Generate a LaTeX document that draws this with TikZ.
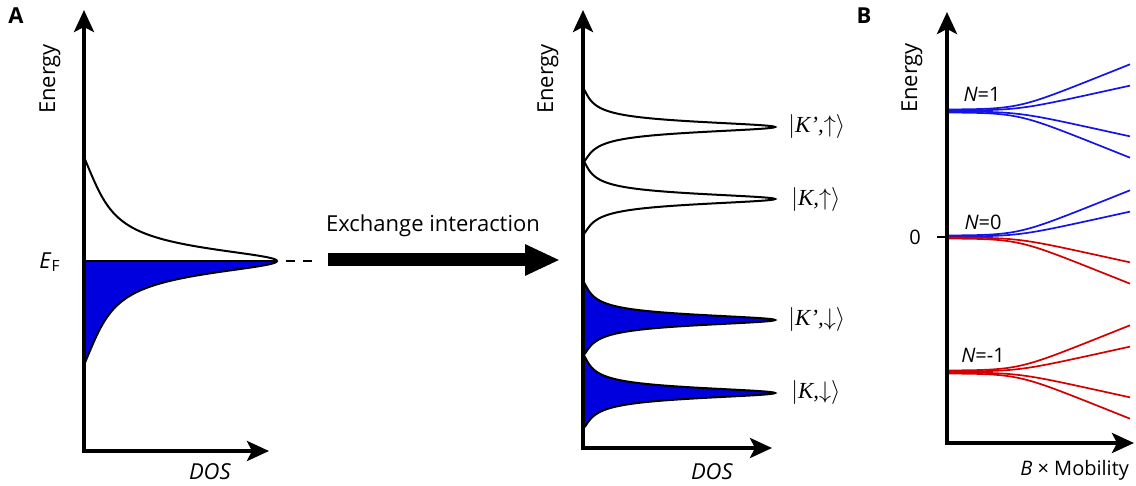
\documentclass[tikz,border=0pt]{standalone}
\usepackage{fontspec}
\setmainfont{Open Sans}
\newfontfamily\ketfont{Liberation Serif}
\usetikzlibrary{arrows.meta}
\definecolor{dosblue}{RGB}{0,0,222}
\definecolor{lvlblue}{RGB}{20,20,230}
\definecolor{lvlred}{RGB}{210,0,0}
\newcommand{\ketlabel}[2]{{\fontsize{11.5}{13}\selectfont$\bigl|\mbox{\ketfont\itshape #1,}{#2}\bigr\rangle$}}
\begin{document}
\begin{tikzpicture}[x=0.5pt,y=-0.5pt,font=\fontsize{11}{13}\selectfont,
    axis/.style={line width=2pt,line join=miter,
      {Stealth[length=11pt,width=10pt,inset=2.5pt]}-{Stealth[length=11pt,width=10pt,inset=2.5pt]}},
    dos/.style={line width=1pt},
    lvl/.style={line width=0.85pt},
    small/.style={font=\fontsize{10}{12}\selectfont},
    declare function={
      pkA(\dy)=(1+(\dy*\dy)/182.25)^(-0.7)*(1-((\dy*\dy)/10816)^2);
      hm(\dy)=(\dy<0)*38+(\dy>=0)*35;
      pkM(\dy)=sqrt(max(0,1-(\dy*\dy)/(hm(\dy)*hm(\dy))))/(1+(\dy*\dy)/42.25);}]
  \useasboundingbox (0,0) rectangle (1136,486);
  % panel A, left: single peak at E_F
  \fill[dosblue] (84,261) -- plot[domain=0:104,samples=131] ({84+193*pkA(\x)},{261+\x}) -- cycle;
  \draw[dos] plot[domain=-104:104,samples=261] ({84+193*pkA(\x)},{261+\x});
  \coordinate (peakA) at (277,261);
  \draw[dos] (84,261) -- (peakA);
  \draw[axis] (84,10) -- (84,451) -- (269,451);
  \node (pA) at (16,16) {\bfseries A};
  \node[rotate=90] (enA) at (50,79) {Energy};
  \node (dosA) at (210,472) {\textit{DOS}};
  \node (EF) at (50,262) {\textit{E}\textsubscript{F}};
  % exchange arrow
  \coordinate (dashL) at (286,261);
  \coordinate (dashR) at (313,261);
  \draw[dos,dash pattern=on 4.5pt off 4pt] (dashL) -- (dashR);
  \coordinate (xchL) at (328,260);
  \coordinate (xchR) at (560,260);
  \draw[line width=6.5pt,-{Triangle[length=17.5pt,width=14.5pt]}] (xchL) -- (xchR);
  \node (xch) at (433,226) {Exchange interaction};
  % panel A, right: four split peaks
  \foreach \yp/\fc in {127/none,199/none,320/dosblue,393/dosblue}
    \filldraw[dos,fill=\fc] plot[domain=-38:35,samples=147] ({583+192*pkM(\x)},{\yp+\x}) -- cycle;
  \draw[axis] (583,10) -- (583,448) -- (772,448);
  \node[rotate=90] (enM) at (548,79) {Energy};
  \node (dosM) at (712,472) {\textit{DOS}};
  \node[anchor=west,inner sep=0pt] (k1) at (788,127) {\ketlabel{K’}{\uparrow}};
  \node[anchor=west,inner sep=0pt] (k2) at (791,200) {\ketlabel{K}{\uparrow}};
  \node[anchor=west,inner sep=0pt] (k3) at (788,320) {\ketlabel{K’}{\downarrow}};
  \node[anchor=west,inner sep=0pt] (k4) at (791,393) {\ketlabel{K}{\downarrow}};
  % panel B: Landau levels vs field
  \foreach \lev/\cu/\cd in {111/lvlblue/lvlblue,237/lvlblue/lvlred,372/lvlred/lvlred}
    \foreach \s/\b in {0.4/1.5,0.22/0.5}{
      \draw[lvl,\cu] plot[domain=947:1130,samples=61] (\x,{\lev-\b-\s*15*ln(1+exp((\x-1017)/15))});
      \draw[lvl,\cd] plot[domain=947:1130,samples=61] (\x,{\lev+\b+\s*15*ln(1+exp((\x-1017)/15))});
    }
  \draw[axis] (947,12) -- (947,443) -- (1134,443);
  \coordinate (zero) at (947,237);
  \draw[line width=0.8pt] (zero) -- ++(-10,0);
  \node[small] (zlab) at (915,237) {0};
  \node (pB) at (864,16) {\bfseries B};
  \node[rotate=90] (enB) at (912,78) {Energy};
  \node[small] (n1) at (982,94) {\textit{N}=1};
  \node[small] (n0) at (983,222) {\textit{N}=0};
  \node[small] (nm1) at (983,355) {\textit{N}=-1};
  \node[small,anchor=east] (bmob) at (1136,470) {\textit{B} × Mobility};
\end{tikzpicture}
\end{document}
